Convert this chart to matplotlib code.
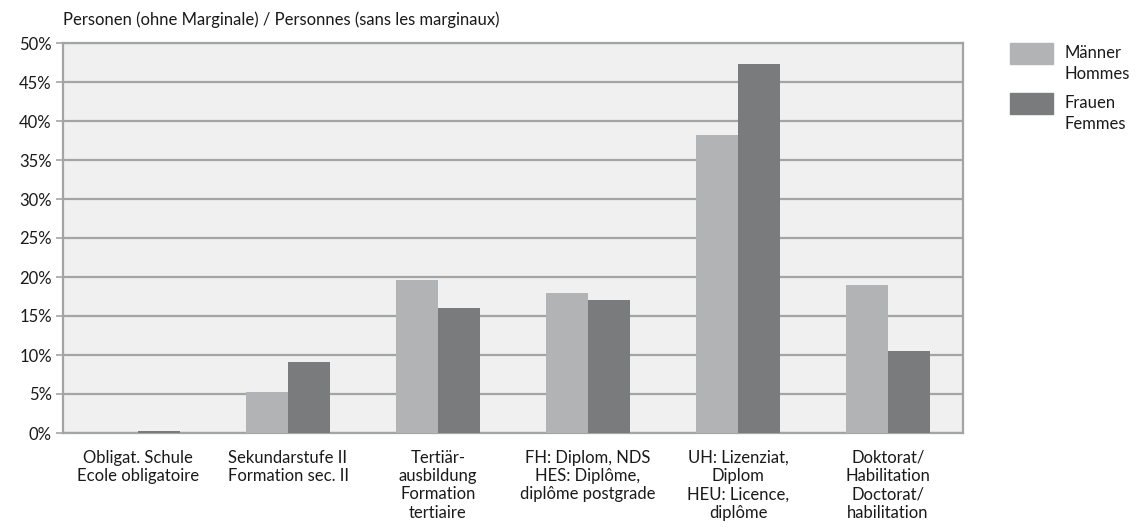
import matplotlib
matplotlib.use("Agg")
import matplotlib.pyplot as plt
import numpy as np
from matplotlib.patches import Rectangle

plt.rcParams['font.family'] = ['Lato', 'DejaVu Sans']

categories = [
    "Obligat. Schule\nEcole obligatoire",
    "Sekundarstufe II\nFormation sec. II",
    "Tertiär-\nausbildung\nFormation\ntertiaire",
    "FH: Diplom, NDS\nHES: Diplôme,\ndiplôme postgrade",
    "UH: Lizenziat,\nDiplom\nHEU: Licence,\ndiplôme",
    "Doktorat/\nHabilitation\nDoctorat/\nhabilitation",
]
maenner = [0.0, 5.2, 19.6, 17.9, 38.2, 19.0]
frauen = [0.2, 9.1, 16.0, 17.0, 47.3, 10.5]
yticks = [0, 5, 10, 15, 20, 25, 30, 35, 40, 45, 50]
series_labels = ["Männer\nHommes", "Frauen\nFemmes"]

c_m = "#b2b3b4"
c_f = "#7a7b7c"
grid_c = "#a3a4a4"
txt_c = "#1a1a1a"
W, H = 1139, 530

fig = plt.figure(figsize=(W/100, H/100), dpi=100)
ax = fig.add_axes([63/W, (H-433)/H, 900/W, 390/H])
ax.set_facecolor("#eff0ef")

x = np.arange(len(categories))
w = 0.28
ax.bar(x - w/2, maenner, width=w, color=c_m, zorder=3)
ax.bar(x + w/2, frauen, width=w, color=c_f, zorder=3)

ax.set_xlim(-0.5, len(categories) - 0.5)
ax.set_ylim(0, 50)
ax.set_yticks(yticks)
ax.set_yticklabels([f"{v}%" for v in yticks], fontsize=12, color=txt_c)
ax.yaxis.grid(True, color=grid_c, linewidth=1.6, zorder=1)
ax.set_axisbelow(True)
ax.set_xticks(x)
ax.set_xticklabels(categories, fontsize=12, color=txt_c, linespacing=1.18)
ax.tick_params(axis='x', length=0, pad=12)
ax.tick_params(axis='y', length=5, color=grid_c, width=1.2, pad=3)
for s in ax.spines.values():
    s.set_color(grid_c)
    s.set_linewidth(1.6)

fig.text(63/W, 1 - 20/H, "Personen (ohne Marginale) / Personnes (sans les marginaux)",
         fontsize=12, color=txt_c, va="center", ha="left")

# legend (manual)
colors = [c_m, c_f]
tops = [43, 93]
for lab, col, top in zip(series_labels, colors, tops):
    fig.patches.append(Rectangle((1010/W, 1 - (top + 21)/H), 43/W, 21/H,
                                 transform=fig.transFigure, color=col, figure=fig))
    fig.text(1065/W, 1 - (top + 2)/H, lab, fontsize=12, color=txt_c,
             va="top", ha="left", linespacing=1.4)

fig.savefig("out.png", dpi=100)
